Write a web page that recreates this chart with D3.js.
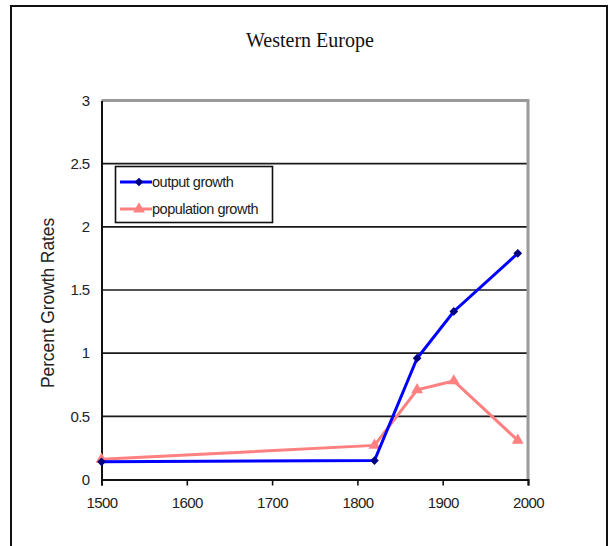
<!DOCTYPE html>
<html>
<head>
<meta charset="utf-8">
<script src="https://cdn.jsdelivr.net/npm/d3@7"></script>
<style>
  html, body { margin: 0; padding: 0; background: #fff; }
  svg { display: block; }
</style>
</head>
<body>
<svg id="chart" width="611" height="546"></svg>
<script>
// Growth rates (% per year) for Western Europe, by period end year
const years = [1500, 1820, 1870, 1913, 1988];
const outputGrowth = [0.14, 0.15, 0.96, 1.33, 1.79];
const populationGrowth = [0.16, 0.27, 0.71, 0.78, 0.31];
const xTicks = [1500, 1600, 1700, 1800, 1900, 2000];
const yTicks = [0, 0.5, 1, 1.5, 2, 2.5, 3];
const seriesNames = ["output growth", "population growth"];

const svg = d3.select("#chart");
const plot = { left: 101.5, right: 528, top: 100.5, bottom: 479.5 };

// outer chart frame
svg.append("rect")
  .attr("x", 11).attr("y", 6)
  .attr("width", 596).attr("height", 560)
  .attr("fill", "#fff").attr("stroke", "#111").attr("stroke-width", 2);

svg.append("text")
  .attr("x", 310).attr("y", 47)
  .attr("text-anchor", "middle")
  .attr("font-family", "'Liberation Serif', 'Times New Roman', serif")
  .attr("font-size", 20)
  .attr("fill", "#111")
  .text("Western Europe");

const x = d3.scaleLinear().domain([1500, 2000]).range([plot.left, plot.right]);
const y = d3.scaleLinear().domain([0, 3]).range([plot.bottom, plot.top]);

// horizontal gridlines
svg.append("g").selectAll("line")
  .data(yTicks.filter(v => v > 0 && v < 3))
  .join("line")
  .attr("x1", plot.left).attr("x2", plot.right)
  .attr("y1", d => y(d)).attr("y2", d => y(d))
  .attr("stroke", "#1a1a1a").attr("stroke-width", 1.6);

// grey top and right plot border
svg.append("path")
  .attr("d", `M${plot.left},${y(3)} H${plot.right} V${plot.bottom}`)
  .attr("fill", "none").attr("stroke", "#9a9a9a").attr("stroke-width", 3);

// x axis
const xAxis = svg.append("g")
  .attr("transform", `translate(0,${plot.bottom})`)
  .call(d3.axisBottom(x).tickValues(xTicks).tickFormat(d3.format("d")).tickSize(6).tickPadding(12));
xAxis.select(".domain").attr("stroke", "#111").attr("stroke-width", 2);
xAxis.selectAll(".tick line").attr("stroke", "#111").attr("stroke-width", 1.6);
xAxis.selectAll(".tick text")
  .attr("font-family", "'Liberation Sans', Arial, sans-serif")
  .attr("font-size", 15).attr("letter-spacing", -0.6).attr("fill", "#222");

// y axis
const yAxis = svg.append("g")
  .attr("transform", `translate(${plot.left},0)`)
  .call(d3.axisLeft(y).tickValues(yTicks).tickFormat(d3.format("")).tickSize(0).tickPadding(12));
yAxis.select(".domain").attr("stroke", "#111").attr("stroke-width", 2);
yAxis.selectAll(".tick text")
  .attr("font-family", "'Liberation Sans', Arial, sans-serif")
  .attr("font-size", 15).attr("letter-spacing", -0.6).attr("fill", "#222");

svg.append("text")
  .attr("transform", "translate(54,303) rotate(-90)")
  .attr("text-anchor", "middle")
  .attr("font-family", "'Liberation Sans', Arial, sans-serif")
  .attr("font-size", 17.5).attr("letter-spacing", -0.1)
  .attr("fill", "#222")
  .text("Percent Growth Rates");

const line = d3.line().x(d => x(d[0])).y(d => y(d[1]));
const popData = years.map((yr, i) => [yr, populationGrowth[i]]);
const outData = years.map((yr, i) => [yr, outputGrowth[i]]);

// diamonds are squares turned 45 degrees
const diamond = d3.symbol().type(d3.symbolSquare).size(38);
const triangle = d3.symbol().type(d3.symbolTriangle).size(60);

// population series
svg.append("path").datum(popData)
  .attr("d", line).attr("fill", "none")
  .attr("stroke", "#ff8080").attr("stroke-width", 3);
svg.append("g").selectAll("path").data(popData).join("path")
  .attr("transform", d => `translate(${x(d[0])},${y(d[1])})`)
  .attr("d", triangle).attr("fill", "#ff8080");

// output series
svg.append("path").datum(outData)
  .attr("d", line).attr("fill", "none")
  .attr("stroke", "#0000ff").attr("stroke-width", 3);
svg.append("g").selectAll("path").data(outData).join("path")
  .attr("transform", d => `translate(${x(d[0])},${y(d[1])}) rotate(45)`)
  .attr("d", diamond).attr("fill", "#000080");

// legend
const legend = svg.append("g");
legend.append("rect")
  .attr("x", 115.5).attr("y", 166.5).attr("width", 157).attr("height", 56)
  .attr("fill", "#fff").attr("stroke", "#111").attr("stroke-width", 1.6);
const legendItems = [
  { name: seriesNames[0], color: "#0000ff", mark: "#000080", sym: diamond, rot: 45, cy: 182 },
  { name: seriesNames[1], color: "#ff8080", mark: "#ff8080", sym: triangle, rot: 0, cy: 209 }
];
legendItems.forEach(it => {
  legend.append("line")
    .attr("x1", 120).attr("x2", 152).attr("y1", it.cy).attr("y2", it.cy)
    .attr("stroke", it.color).attr("stroke-width", 3);
  legend.append("path")
    .attr("transform", `translate(139,${it.cy}) rotate(${it.rot})`)
    .attr("d", it.sym).attr("fill", it.mark);
  legend.append("text")
    .attr("x", 152).attr("y", it.cy + 5)
    .attr("font-family", "'Liberation Sans', Arial, sans-serif")
    .attr("font-size", 14.5).attr("letter-spacing", -0.5)
    .attr("fill", "#222")
    .text(it.name);
});
</script>
</body>
</html>
